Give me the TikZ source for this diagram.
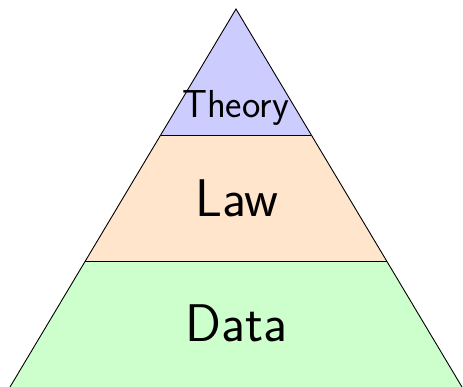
\documentclass[tikz,border=0pt]{standalone}
\begin{document}
\begin{tikzpicture}[x=1pt,y=-1pt,
  band/.style={draw=black,line width=0.9pt,line join=miter},
  lbl/.style={font=\sffamily,anchor=base,inner sep=0pt}]
\useasboundingbox (0,0) rectangle (463,386);
\coordinate (apex) at (236,9);
\coordinate (l1) at (160.67,135);
\coordinate (r1) at (311.33,135);
\coordinate (l2) at (85.33,261);
\coordinate (r2) at (386.67,261);
\coordinate (l3) at (10,387);
\coordinate (r3) at (462,387);
\fill[green!20] (l2) -- (r2) -- (r3) -- (l3) -- cycle;
\fill[orange!20] (l1) -- (r1) -- (r2) -- (l2) -- cycle;
\fill[blue!20] (apex) -- (r1) -- (l1) -- cycle;
\draw[band] (l3) -- (apex) -- (r3);
\draw[band] (l1) -- (r1);
\draw[band] (l2) -- (r2);
\node[lbl,font=\sffamily\fontsize{39}{39}\selectfont] (theory) at (235.5,117) {Theory};
\node[lbl,font=\sffamily\fontsize{53}{53}\selectfont] (law) at (237,216) {Law};
\node[lbl,font=\sffamily\fontsize{53}{53}\selectfont] (data) at (236.5,341) {Data};
\end{tikzpicture}
\end{document}
